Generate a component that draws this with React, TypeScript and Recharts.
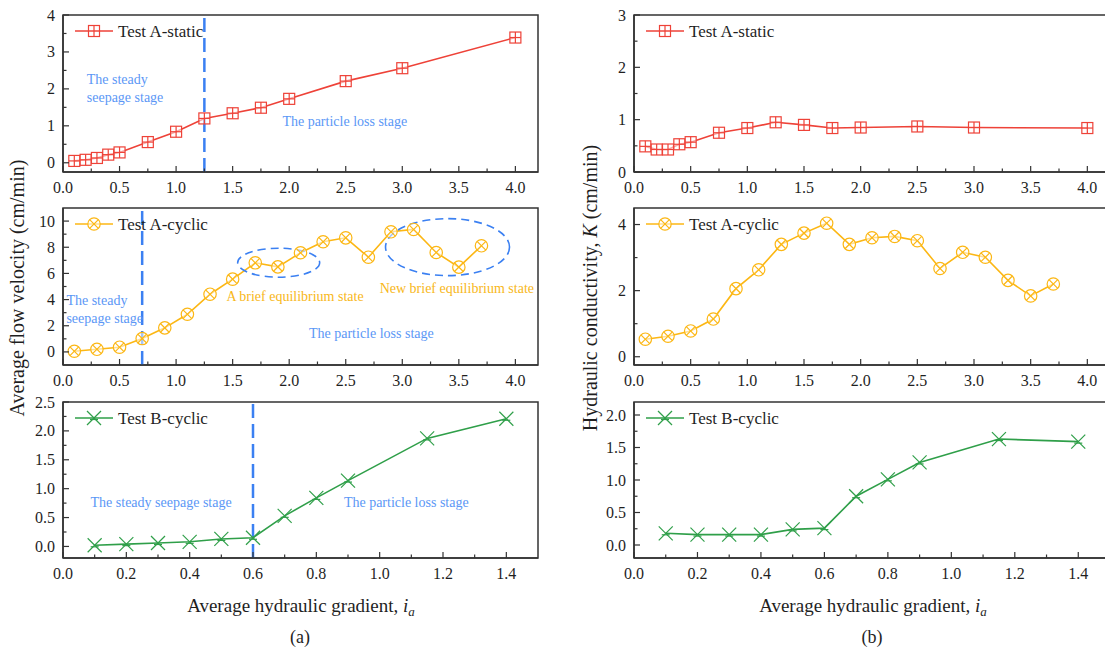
import {
  Line,
  LineChart,
  ReferenceArea,
  ReferenceDot,
  ReferenceLine,
  XAxis,
  YAxis,
} from 'recharts';

const FONT = '"Liberation Serif", "Times New Roman", serif';
const AXIS = '#333';
const INK = '#1f1f1f';
const RED = '#ee4238';
const GOLD = '#fcb714';
const GREEN = '#2f9f49';
const BLUE = '#3b80f2';
const BLUE_TEXT = '#5b97f6';
const GOLD_TEXT = '#f8b719';

// gradients (x) per test
const xStaticA = [0.1, 0.2, 0.3, 0.4, 0.5, 0.75, 1.0, 1.25, 1.5, 1.75, 2.0, 2.5, 3.0, 4.0];
const xCyclicA = [0.1, 0.3, 0.5, 0.7, 0.9, 1.1, 1.3, 1.5, 1.7, 1.9, 2.1, 2.3, 2.5, 2.7, 2.9, 3.1, 3.3, 3.5, 3.7];
const xCyclicB = [0.1, 0.2, 0.3, 0.4, 0.5, 0.6, 0.7, 0.8, 0.9, 1.15, 1.4];

// (a) average flow velocity, cm/min
const velStaticA = [0.05, 0.08, 0.13, 0.22, 0.28, 0.56, 0.84, 1.2, 1.34, 1.49, 1.73, 2.21, 2.56, 3.39];
const velCyclicA = [0.05, 0.2, 0.36, 1.02, 1.84, 2.88, 4.41, 5.56, 6.81, 6.5, 7.58, 8.42, 8.72, 7.24, 9.18, 9.36, 7.6, 6.48, 8.11];
const velCyclicB = [0.02, 0.04, 0.06, 0.08, 0.13, 0.15, 0.53, 0.84, 1.14, 1.87, 2.21];

// (b) hydraulic conductivity K, cm/min
const kStaticA = [0.49, 0.43, 0.43, 0.53, 0.57, 0.75, 0.84, 0.95, 0.9, 0.84, 0.85, 0.87, 0.85, 0.84];
const kCyclicA = [0.53, 0.62, 0.78, 1.14, 2.06, 2.63, 3.4, 3.74, 4.04, 3.4, 3.6, 3.64, 3.51, 2.67, 3.16, 3.01, 2.31, 1.84, 2.2];
const kCyclicB = [0.18, 0.16, 0.16, 0.16, 0.24, 0.26, 0.75, 1.01, 1.27, 1.63, 1.59];

// ticks (major + minor)
const xTicksLong = [0, 0.25, 0.5, 0.75, 1, 1.25, 1.5, 1.75, 2, 2.25, 2.5, 2.75, 3, 3.25, 3.5, 3.75, 4];
const xTicksShort = [0, 0.1, 0.2, 0.3, 0.4, 0.5, 0.6, 0.7, 0.8, 0.9, 1.0, 1.1, 1.2, 1.3, 1.4];
const yTicksVelStatic = [0, 0.5, 1, 1.5, 2, 2.5, 3, 3.5, 4];
const yTicksVelCyclicA = [0, 1, 2, 3, 4, 5, 6, 7, 8, 9, 10];
const yTicksVelCyclicB = [0, 0.25, 0.5, 0.75, 1, 1.25, 1.5, 1.75, 2, 2.25, 2.5];
const yTicksKStatic = [0, 0.5, 1, 1.5, 2, 2.5, 3];
const yTicksKCyclicA = [0, 1, 2, 3, 4];
const yTicksKCyclicB = [0, 0.25, 0.5, 0.75, 1, 1.25, 1.5, 1.75, 2];

const isMajor = (v: number, step: number) => Math.abs(v / step - Math.round(v / step)) < 1e-6;

function XTick(props: any) {
  const { x, y, payload, step, digits } = props;
  const v = payload.value as number;
  const major = isMajor(v, step);
  return (
    <g>
      <line x1={x} x2={x} y1={y} y2={y - (major ? 6 : 3.5)} stroke={AXIS} strokeWidth={1.2} />
      {major && (
        <text x={x} y={y + 21} textAnchor="middle" fontSize={16} fontFamily={FONT} fill={INK}>
          {v.toFixed(digits)}
        </text>
      )}
    </g>
  );
}

function YTick(props: any) {
  const { x, y, payload, step, digits } = props;
  const v = payload.value as number;
  const major = isMajor(v, step);
  return (
    <g>
      <line x1={x} x2={x + (major ? 6 : 3.5)} y1={y} y2={y} stroke={AXIS} strokeWidth={1.2} />
      {major && (
        <text x={x - 8} y={y + 5.5} textAnchor="end" fontSize={16} fontFamily={FONT} fill={INK}>
          {v.toFixed(digits)}
        </text>
      )}
    </g>
  );
}

function Marker({ cx, cy, kind, color }: { cx?: number; cy?: number; kind: string; color: string }) {
  if (cx == null || cy == null) return null;
  if (kind === 'square') {
    const h = 5.5;
    return (
      <g stroke={color} strokeWidth={1.2} fill="rgba(255,255,255,0.55)">
        <rect x={cx - h} y={cy - h} width={2 * h} height={2 * h} />
        <line x1={cx - h} x2={cx + h} y1={cy} y2={cy} />
        <line x1={cx} x2={cx} y1={cy - h} y2={cy + h} />
      </g>
    );
  }
  if (kind === 'circle') {
    const r = 6.2;
    const d = r * 0.707;
    return (
      <g stroke={color} strokeWidth={1.2} fill="rgba(255,255,255,0.55)">
        <circle cx={cx} cy={cy} r={r} />
        <line x1={cx - d} x2={cx + d} y1={cy - d} y2={cy + d} />
        <line x1={cx - d} x2={cx + d} y1={cy + d} y2={cy - d} />
      </g>
    );
  }
  const h = 7;
  return (
    <g stroke={color} strokeWidth={1.2} fill="none">
      <line x1={cx - h} x2={cx + h} y1={cy - h} y2={cy + h} />
      <line x1={cx - h} x2={cx + h} y1={cy + h} y2={cy - h} />
      <line x1={cx - 4} x2={cx + 4} y1={cy + 1.5} y2={cy + 1.5} />
    </g>
  );
}

function noteShape(lines: string[], color: string) {
  return (p: any) => (
    <text x={p.cx} y={p.cy} fill={color} fontSize={14} fontFamily={FONT}>
      {lines.map((l, i) => (
        <tspan key={i} x={p.cx} dy={i === 0 ? 0 : 18}>
          {l}
        </tspan>
      ))}
    </text>
  );
}

function ellipseShape(rx: number, ry: number) {
  return (p: any) => (
    <ellipse
      cx={p.cx}
      cy={p.cy}
      rx={rx}
      ry={ry}
      fill="none"
      stroke={BLUE}
      strokeWidth={1.6}
      strokeDasharray="8 5"
    />
  );
}

interface Note {
  x: number;
  y: number;
  lines: string[];
  color: string;
}

interface PanelCfg {
  left: number;
  top: number;
  xs: number[];
  ys: number[];
  color: string;
  kind: string;
  label: string;
  xMax: number;
  xTicks: number[];
  xStep: number;
  yDomain: [number, number];
  yTicks: number[];
  yStep: number;
  yDigits: number;
  xAxisHeight: number;
  marginRight: number;
  stage?: number;
  notes?: Note[];
  ellipses?: { x: number; y: number; rx: number; ry: number }[];
}

const panels: PanelCfg[] = [
  {
    left: 0, top: 0, xs: xStaticA, ys: velStaticA, color: RED, kind: 'square', label: 'Test A-static',
    xMax: 4.2, xTicks: xTicksLong, xStep: 0.5, yDomain: [-0.25, 4], yTicks: yTicksVelStatic, yStep: 1, yDigits: 0,
    xAxisHeight: 28, marginRight: 22, stage: 1.25,
    notes: [
      { x: 0.21, y: 2.14, lines: ['The steady', 'seepage stage'], color: BLUE_TEXT },
      { x: 1.94, y: 0.99, lines: ['The particle loss stage'], color: BLUE_TEXT },
    ],
  },
  {
    left: 0, top: 193, xs: xCyclicA, ys: velCyclicA, color: GOLD, kind: 'circle', label: 'Test A-cyclic',
    xMax: 4.2, xTicks: xTicksLong, xStep: 0.5, yDomain: [-1, 11], yTicks: yTicksVelCyclicA, yStep: 2, yDigits: 0,
    xAxisHeight: 28, marginRight: 22, stage: 0.7,
    notes: [
      { x: 0.03, y: 3.57, lines: ['The steady', 'seepage stage'], color: BLUE_TEXT },
      { x: 1.445, y: 3.88, lines: ['A brief equilibrium state'], color: GOLD_TEXT },
      { x: 2.8, y: 4.49, lines: ['New brief equilibrium state'], color: GOLD_TEXT },
      { x: 2.175, y: 1.05, lines: ['The particle loss stage'], color: BLUE_TEXT },
    ],
    ellipses: [
      { x: 1.907, y: 6.82, rx: 41, ry: 14.5 },
      { x: 3.4, y: 8.01, rx: 62, ry: 28.5 },
    ],
  },
  {
    left: 0, top: 387, xs: xCyclicB, ys: velCyclicB, color: GREEN, kind: 'star', label: 'Test B-cyclic',
    xMax: 1.5, xTicks: xTicksShort, xStep: 0.2, yDomain: [-0.2, 2.5], yTicks: yTicksVelCyclicB, yStep: 0.5, yDigits: 1,
    xAxisHeight: 29, marginRight: 22, stage: 0.6,
    notes: [
      { x: 0.087, y: 0.69, lines: ['The steady seepage stage'], color: BLUE_TEXT },
      { x: 0.887, y: 0.69, lines: ['The particle loss stage'], color: BLUE_TEXT },
    ],
  },
  {
    left: 571, top: 0, xs: xStaticA, ys: kStaticA, color: RED, kind: 'square', label: 'Test A-static',
    xMax: 4.2, xTicks: xTicksLong, xStep: 0.5, yDomain: [0, 3], yTicks: yTicksKStatic, yStep: 1, yDigits: 0,
    xAxisHeight: 28, marginRight: 21,
  },
  {
    left: 571, top: 193, xs: xCyclicA, ys: kCyclicA, color: GOLD, kind: 'circle', label: 'Test A-cyclic',
    xMax: 4.2, xTicks: xTicksLong, xStep: 0.5, yDomain: [-0.25, 4.5], yTicks: yTicksKCyclicA, yStep: 2, yDigits: 0,
    xAxisHeight: 28, marginRight: 21,
  },
  {
    left: 571, top: 387, xs: xCyclicB, ys: kCyclicB, color: GREEN, kind: 'star', label: 'Test B-cyclic',
    xMax: 1.5, xTicks: xTicksShort, xStep: 0.2, yDomain: [-0.2, 2.2], yTicks: yTicksKCyclicB, yStep: 0.5, yDigits: 1,
    xAxisHeight: 29, marginRight: 21,
  },
];

const CHART_W = 560;
const CHART_H = 200;
const MARGIN_TOP = 15;
const Y_AXIS_W = 63;

function Panel({ p }: { p: PanelCfg }) {
  const data = p.xs.map((x, i) => ({ x, y: p.ys[i] }));
  return (
    <div style={{ position: 'absolute', left: p.left, top: p.top }}>
      <LineChart
        width={CHART_W}
        height={CHART_H}
        data={data}
        margin={{ top: MARGIN_TOP, right: p.marginRight, bottom: 0, left: 0 }}
      >
        <XAxis
          dataKey="x"
          type="number"
          domain={[0, p.xMax]}
          ticks={p.xTicks}
          interval={0}
          tickLine={false}
          tickSize={0}
          tickMargin={0}
          height={p.xAxisHeight}
          axisLine={{ stroke: AXIS, strokeWidth: 1.5 }}
          tick={<XTick step={p.xStep} digits={1} />}
        />
        <YAxis
          type="number"
          domain={p.yDomain}
          ticks={p.yTicks}
          interval={0}
          tickLine={false}
          tickSize={0}
          tickMargin={0}
          width={Y_AXIS_W}
          axisLine={{ stroke: AXIS, strokeWidth: 1.5 }}
          tick={<YTick step={p.yStep} digits={p.yDigits} />}
        />
        <ReferenceArea
          x1={0}
          x2={p.xMax}
          y1={p.yDomain[0]}
          y2={p.yDomain[1]}
          fill="none"
          stroke={AXIS}
          strokeWidth={1.5}
        />
        {p.stage != null && (
          <ReferenceLine x={p.stage} stroke={BLUE} strokeWidth={2.5} strokeDasharray="14 6" />
        )}
        {(p.ellipses ?? []).map((e, i) => (
          <ReferenceDot key={`e${i}`} x={e.x} y={e.y} r={0} shape={ellipseShape(e.rx, e.ry)} />
        ))}
        {(p.notes ?? []).map((n, i) => (
          <ReferenceDot key={`n${i}`} x={n.x} y={n.y} r={0} shape={noteShape(n.lines, n.color)} />
        ))}
        <Line
          type="linear"
          dataKey="y"
          stroke={p.color}
          strokeWidth={1.6}
          isAnimationActive={false}
          dot={(d: any) => <Marker key={d.index} cx={d.cx} cy={d.cy} kind={p.kind} color={p.color} />}
        />
      </LineChart>
    </div>
  );
}

function Legend({ p }: { p: PanelCfg }) {
  const x0 = p.left + Y_AXIS_W;
  const y0 = p.top + MARGIN_TOP + 16;
  return (
    <g>
      <line x1={x0 + 12} x2={x0 + 50} y1={y0} y2={y0} stroke={p.color} strokeWidth={1.6} />
      <Marker cx={x0 + 31} cy={y0} kind={p.kind} color={p.color} />
      <text x={x0 + 55} y={y0 + 6} fontSize={17} fontFamily={FONT} fill={INK}>
        {p.label}
      </text>
    </g>
  );
}

function XTitle({ cx }: { cx: number }) {
  return (
    <text x={cx} y={612} textAnchor="middle" fontSize={19} fontFamily={FONT} fill={INK}>
      Average hydraulic gradient,{' '}
      <tspan fontStyle="italic">i</tspan>
      <tspan fontStyle="italic" fontSize={13} dy={4}>
        a
      </tspan>
    </text>
  );
}

export default function App() {
  return (
    <div
      style={{
        position: 'absolute',
        left: 0,
        top: 0,
        width: 1105,
        height: 655,
        overflow: 'hidden',
        background: '#fff',
      }}
    >
      {panels.map((p, i) => (
        <Panel key={i} p={p} />
      ))}
      <svg
        width={1105}
        height={655}
        style={{ position: 'absolute', left: 0, top: 0, pointerEvents: 'none' }}
      >
        {panels.map((p, i) => (
          <Legend key={i} p={p} />
        ))}
        <text
          x={17}
          y={288}
          transform="rotate(-90 17 288)"
          textAnchor="middle"
          dominantBaseline="central"
          fontSize={20}
          fontFamily={FONT}
          fill={INK}
        >
          Average flow velocity (cm/min)
        </text>
        <text
          x={590}
          y={288}
          transform="rotate(-90 590 288)"
          textAnchor="middle"
          dominantBaseline="central"
          fontSize={20}
          fontFamily={FONT}
          fill={INK}
        >
          Hydraulic conductivity, <tspan fontStyle="italic">K</tspan> (cm/min)
        </text>
        <XTitle cx={301} />
        <XTitle cx={873} />
        <text x={300} y={643} textAnchor="middle" fontSize={18} fontFamily={FONT} fill={INK}>
          (a)
        </text>
        <text x={872} y={643} textAnchor="middle" fontSize={18} fontFamily={FONT} fill={INK}>
          (b)
        </text>
      </svg>
    </div>
  );
}
